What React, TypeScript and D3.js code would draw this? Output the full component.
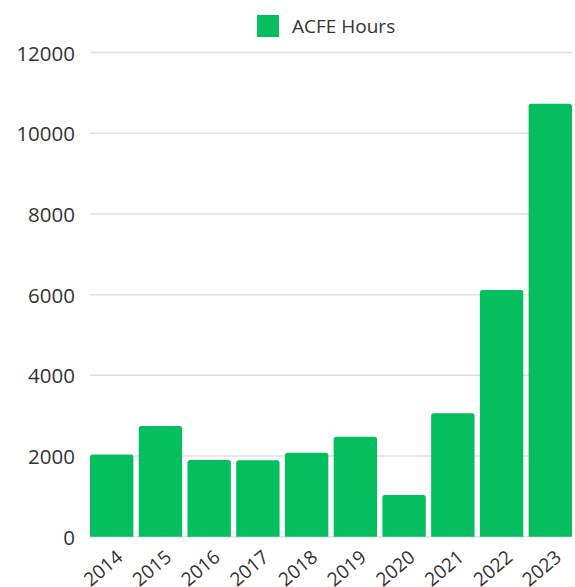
import React from "react";
import * as d3 from "d3";

const years = ["2014", "2015", "2016", "2017", "2018", "2019", "2020", "2021", "2022", "2023"];
const hours = [2040, 2745, 1900, 1895, 2080, 2480, 1035, 3060, 6115, 10730];
const yTicks = [0, 2000, 4000, 6000, 8000, 10000, 12000];
const seriesName = "ACFE Hours";

const W = 575;
const H = 587;
const FONT = "'Open Sans', sans-serif";
const GREEN = "#04BE5F";

export default function App() {
  const x = d3.scaleBand<string>().domain(years).range([90, 572]).paddingInner(0.11).paddingOuter(0);
  const y = d3.scaleLinear().domain([0, 12000]).range([536.7, 52.6]);
  const r = 2.5;
  return (
    <svg width={W} height={H} style={{ position: "absolute", left: 0, top: 0, background: "#fff" }}>
      <g>
        <rect x={257} y={15} width={22} height={22} fill={GREEN} />
        <text x={292} y={26} fontFamily={FONT} fontSize={19} fill="#333" dominantBaseline="central">
          {seriesName}
        </text>
      </g>
      {yTicks.map((t) => (
        <g key={t}>
          <line x1={90} x2={572} y1={y(t)} y2={y(t)} stroke="#e0e0e0" strokeWidth={1.5} />
          <text x={75} y={y(t)} textAnchor="end" dominantBaseline="central" fontFamily={FONT} fontSize={20.5} fill="#333">
            {t}
          </text>
        </g>
      ))}
      {years.map((yr, i) => {
        const x0 = x(yr)!;
        const bw = x.bandwidth();
        const top = y(hours[i]);
        const base = y(0);
        const p = d3.path();
        p.moveTo(x0, base);
        p.lineTo(x0, top + r);
        p.quadraticCurveTo(x0, top, x0 + r, top);
        p.lineTo(x0 + bw - r, top);
        p.quadraticCurveTo(x0 + bw, top, x0 + bw, top + r);
        p.lineTo(x0 + bw, base);
        p.closePath();
        return <path key={yr} d={p.toString()} fill={GREEN} />;
      })}
      {years.map((yr) => {
        const cx = x(yr)! + x.bandwidth() / 2;
        return (
          <text
            key={"l" + yr}
            transform={`translate(${cx + 2},${547}) rotate(-40)`}
            textAnchor="end"
            dominantBaseline="hanging"
            fontFamily={FONT}
            fontSize={19}
            fill="#333"
          >
            {yr}
          </text>
        );
      })}
    </svg>
  );
}
